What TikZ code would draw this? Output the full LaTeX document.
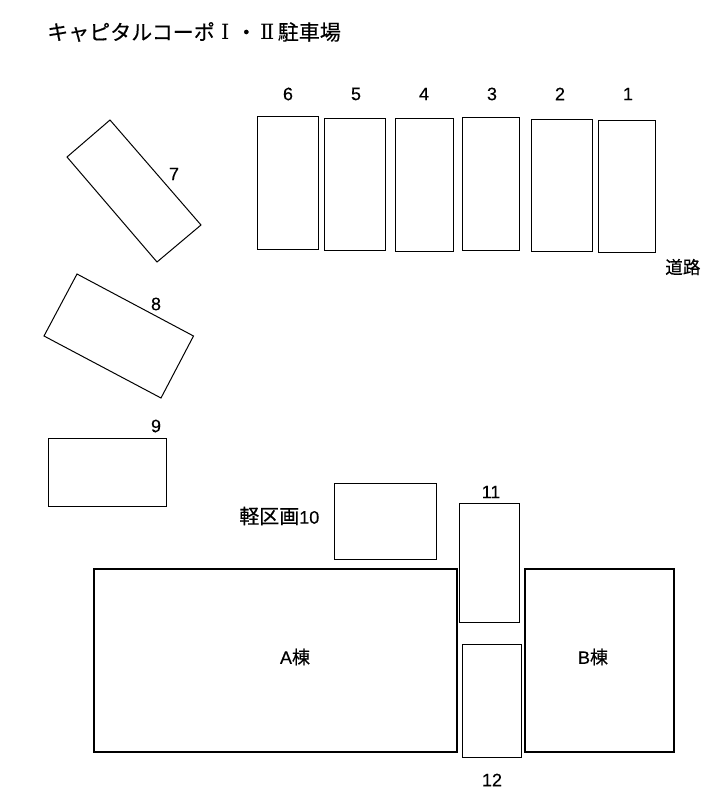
\documentclass[tikz,border=0pt]{standalone}
\usepackage{fontspec}
\setmainfont[FakeBold=0.25]{Liberation Sans}
\newfontfamily\cjk[FakeBold=0.35]{Noto Sans CJK JP}
\newfontfamily\rom{DejaVu Serif}
\newcommand{\romch}[1]{\makebox[1em]{\rom #1}}
\tikzset{
  stall/.style={draw,line width=0.75pt},
  bldg/.style={draw,line width=1.5pt},
  num/.style={inner sep=0pt,font=\fontsize{13.5pt}{15pt}\selectfont}
}
\begin{document}
\begin{tikzpicture}[x=0.75pt,y=-0.75pt]
\useasboundingbox (0,0) rectangle (727,799);
\node[inner sep=0pt,anchor=west,font=\cjk\fontsize{15.75pt}{18pt}\selectfont] (title) at (47,32) {キャピタルコーポ\romch{Ⅰ}・\romch{Ⅱ}駐車場};
% row of stalls
\draw[stall] (257,116) rectangle (318.5,249);
\draw[stall] (324,118) rectangle (385.5,250);
\draw[stall] (395,118) rectangle (453.5,251);
\draw[stall] (462,117) rectangle (519.5,250);
\draw[stall] (531,119) rectangle (592.5,251);
\draw[stall] (598,120) rectangle (655.5,252);
\node[num] (n6) at (288,94) {6};
\node[num] (n5) at (356,94) {5};
\node[num] (n4) at (424,94) {4};
\node[num] (n3) at (492,94) {3};
\node[num] (n2) at (560,94) {2};
\node[num] (n1) at (628,94) {1};
\node[num,anchor=west,font=\cjk\fontsize{13.2pt}{15pt}\selectfont] (road) at (665,267) {道路};
% left side
\draw[stall] (110,120)--(201,225)--(157,262)--(67,157)--cycle;
\draw[stall] (77,274)--(193.5,336)--(161,398)--(44,336)--cycle;
\draw[stall] (48,438) rectangle (166.5,506);
\node[num] (n7) at (174,174) {7};
\node[num] (n8) at (156,304) {8};
\node[num] (n9) at (156,426) {9};
% bottom
\draw[stall] (334,483) rectangle (436.5,559);
\draw[stall] (459,503) rectangle (519.5,622);
\draw[stall] (462,644) rectangle (521.5,757);
\node[num] (n11) at (491,492) {11};
\node[num] (n12) at (492,780) {12};
\node[num,anchor=west] (n10) at (239,516) {{\cjk\fontsize{15pt}{15pt}\selectfont 軽区画}10};
\draw[bldg] (94,569) rectangle (457,752);
\draw[bldg] (525,569) rectangle (674,752);
\node[num] (bldgA) at (295,657) {A{\cjk 棟}};
\node[num] (bldgB) at (593,657) {B{\cjk 棟}};
\end{tikzpicture}
\end{document}
